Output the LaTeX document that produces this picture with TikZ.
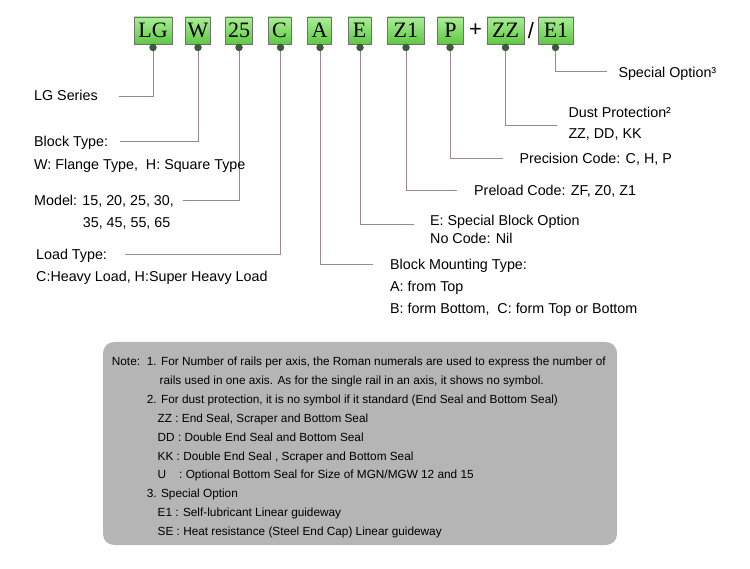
\documentclass[tikz,border=0pt]{standalone}
\usepackage{fontspec}
\setmainfont{Liberation Serif}
\newfontfamily\lbl{Liberation Sans}
\definecolor{gtop}{RGB}{170,238,150}
\definecolor{gbot}{RGB}{96,200,68}
\definecolor{gedge}{RGB}{112,112,112}
\definecolor{dotc}{RGB}{60,92,56}
\definecolor{linec}{RGB}{160,135,140}
\definecolor{notec}{RGB}{181,181,181}
\begin{document}
\begin{tikzpicture}[x=1pt,y=-1pt,
  codebox/.style={draw=gedge, line width=0.8pt, top color=gtop, bottom color=gbot,
    minimum height=27pt, inner sep=0pt, text height=14pt, text depth=0pt,
    font=\fontsize{22}{24}\selectfont},
  dotn/.style={circle, fill=dotc, minimum size=7.5pt, inner sep=0pt},
  conn/.style={draw=linec, line width=0.9pt},
  lab/.style={anchor=base west, inner sep=0pt, font=\lbl\fontsize{14.3}{17}\selectfont},
  notet/.style={anchor=base west, inner sep=0pt, font=\lbl\fontsize{11.8}{14}\selectfont},
  sym/.style={inner sep=0pt, font=\lbl\fontsize{22}{24}\selectfont}]
\useasboundingbox (0,0) rectangle (750,569);

% code boxes
\node[codebox, minimum width=38pt] (bLG) at (153,30.5) {LG};
\node[codebox, minimum width=25.5pt] (bW) at (198,30.5) {W};
\node[codebox, minimum width=26.5pt] (b25) at (239,30.5) {25};
\node[codebox, minimum width=23pt] (bC) at (279.5,30.5) {C};
\node[codebox, minimum width=23.5pt] (bA) at (319.5,30.5) {A};
\node[codebox, minimum width=23pt] (bE) at (359.5,30.5) {E};
\node[codebox, minimum width=37pt] (bZ1) at (405.8,30.5) {Z1};
\node[codebox, minimum width=25.5pt] (bP) at (450.5,30.5) {P};
\node[sym] (plus) at (475.5,30.5) {+};
\node[codebox, minimum width=37pt] (bZZ) at (505.5,30.5) {ZZ};
\node[sym] (slash) at (531,31) {/};
\node[codebox, minimum width=35.5pt] (bE1) at (556,30.5) {E1};

% dot positions
\coordinate (pLG) at (153,47.5);
\coordinate (pW) at (198,47.5);
\coordinate (p25) at (239,47.5);
\coordinate (pC) at (280.5,47.5);
\coordinate (pA) at (320,47.5);
\coordinate (pE) at (360,47.5);
\coordinate (pZ1) at (406,47.5);
\coordinate (pP) at (450,47.5);
\coordinate (pZZ) at (505.5,47.5);
\coordinate (pE1) at (555.5,47.5);

% line ends
\coordinate (eLG) at (119,96);
\coordinate (eW) at (120,141);
\coordinate (e25) at (183,200);
\coordinate (eC) at (125,254.3);
\coordinate (eA) at (373.3,264);
\coordinate (eE) at (414.3,224.3);
\coordinate (eZ1) at (456.7,190);
\coordinate (eP) at (503.3,158.3);
\coordinate (eZZ) at (556.7,125);
\coordinate (eE1) at (606.7,71.5);

% connectors
\draw[conn] (pLG) |- (eLG);
\draw[conn] (pW) |- (eW);
\draw[conn] (p25) |- (e25);
\draw[conn] (pC) |- (eC);
\draw[conn] (pA) |- (eA);
\draw[conn] (pE) |- (eE);
\draw[conn] (pZ1) |- (eZ1);
\draw[conn] (pP) |- (eP);
\draw[conn] (pZZ) |- (eZZ);
\draw[conn] (pE1) |- (eE1);

% dots
\foreach \n in {LG,W,25,C,A,E,Z1,P,ZZ,E1}{\node[dotn] (d\n) at (p\n) {};}

% left labels
\node[lab] (tLG) at (34,101) {LG Series};
\node[lab] (tW1) at (34,147) {Block Type:};
\node[lab] (tW2) at (34,169.3) {W: Flange Type,\ \ H: Square Type};
\node[lab] (t251) at (34,205.5) {Model: 15, 20, 25, 30,};
\node[lab] (t252) at (82.7,227.7) {35, 45, 55, 65};
\node[lab] (tC1) at (36,260) {Load Type:};
\node[lab] (tC2) at (36,281.7) {C:Heavy Load, H:Super Heavy Load};

% right labels
\node[lab] (tE1) at (618.3,77.3) {Special Option³};
\node[lab] (tZZ1) at (568.3,117.3) {Dust Protection²};
\node[lab] (tZZ2) at (568.3,138.3) {ZZ, DD, KK};
\node[lab] (tP) at (519.3,164) {Precision Code: C, H, P};
\node[lab] (tZ1) at (474,195.7) {Preload Code: ZF, Z0, Z1};
\node[lab] (tE1a) at (430,225.7) {E: Special Block Option};
\node[lab] (tE1b) at (430,243.3) {No Code: Nil};
\node[lab] (tA1) at (390,270) {Block Mounting Type:};
\node[lab] (tA2) at (390,291.7) {A: from Top};
\node[lab] (tA3) at (390,313.3) {B: form Bottom,\ \ C: form Top or Bottom};

% note box
\node[fill=notec, rounded corners=11pt, minimum width=514pt, minimum height=203pt, inner sep=0pt] (notebg) at (360,443.5) {};
\node[notet] (n0) at (111.7,366) {Note:};
\node[notet] (n1) at (146.7,366) {1. For Number of rails per axis, the Roman numerals are used to express the number of};
\node[notet] (n2) at (159.5,384.8) {rails used in one axis. As for the single rail in an axis, it shows no symbol.};
\node[notet] (n3) at (146.7,403.6) {2. For dust protection, it is no symbol if it standard (End Seal and Bottom Seal)};
\node[notet] (n4) at (157.5,422.4) {ZZ : End Seal, Scraper and Bottom Seal};
\node[notet] (n5) at (157.5,441.2) {DD : Double End Seal and Bottom Seal};
\node[notet] (n6) at (157.5,460) {KK : Double End Seal , Scraper and Bottom Seal};
\node[notet] (n7) at (157.5,478.8) {U\hspace{13pt}: Optional Bottom Seal for Size of MGN/MGW 12 and 15};
\node[notet] (n8) at (146.7,497.6) {3. Special Option};
\node[notet] (n9) at (157.5,516.4) {E1 : Self-lubricant Linear guideway};
\node[notet] (n10) at (157.5,535.2) {SE : Heat resistance (Steel End Cap) Linear guideway};
\end{tikzpicture}
\end{document}
